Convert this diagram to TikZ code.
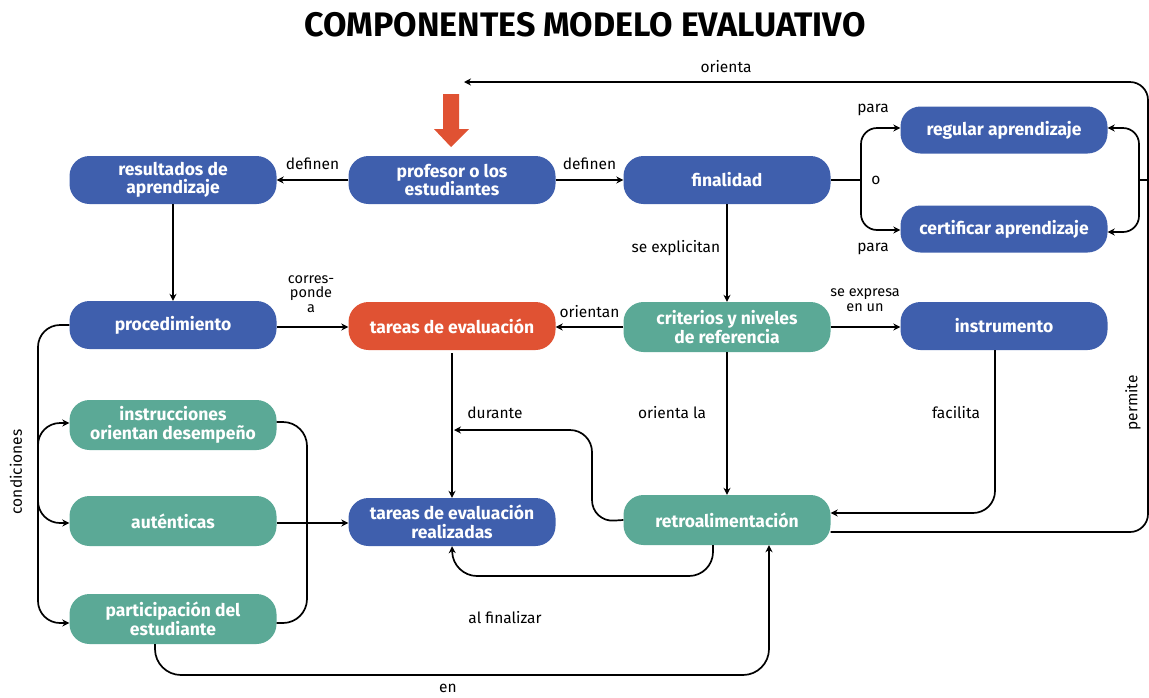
\documentclass[tikz,border=0pt]{standalone}
\usepackage{fontspec}
\setmainfont{Fira Sans}
\usetikzlibrary{arrows.meta,calc}
\definecolor{cblue}{HTML}{3F5FAD}
\definecolor{cteal}{HTML}{5BA996}
\definecolor{corange}{HTML}{E05233}
\tikzset{
  box/.style={rounded corners=20pt, minimum width=207pt, minimum height=48pt, inner sep=0pt,
    text=white, font=\fontsize{17.5}{18.5}\selectfont\bfseries, align=center},
  bluebox/.style={box, fill=cblue},
  tealbox/.style={box, fill=cteal},
  orangebox/.style={box, fill=corange},
  conn/.style={line width=1.7pt, draw=black},
  arr/.style={conn, -{Stealth[length=7pt,width=7pt]}},
  lbl/.style={font=\fontsize{15.5}{15}\selectfont, text=black, align=center, inner sep=0pt},
  tightlbl/.style={lbl, font=\fontsize{14.5}{14.5}\selectfont}
}
\begin{document}
\begin{tikzpicture}[x=1pt,y=-1pt]
\useasboundingbox (0,0) rectangle (1149,697);
\node[font=\fontsize{34}{36}\selectfont\bfseries] (title) at (585,25) {COMPONENTES MODELO EVALUATIVO};
% nodes
\node[bluebox] (res) at (173,180) {resultados de\\aprendizaje};
\node[bluebox] (prof) at (452,180) {profesor o los\\estudiantes};
\node[bluebox] (fin) at (727,180) {finalidad};
\node[bluebox, minimum height=47pt] (reg) at (1004,130) {regular aprendizaje};
\node[bluebox, minimum height=47pt] (cert) at (1004,229) {certificar aprendizaje};
\node[bluebox] (proc) at (173,325) {procedimiento};
\node[orangebox] (tar) at (452,326) {tareas de evaluación};
\node[tealbox, minimum height=50pt] (crit) at (727,327) {criterios y niveles\\de referencia};
\node[bluebox] (instr) at (1004,326) {instrumento};
\node[tealbox, minimum height=50pt] (ins) at (173,425) {instrucciones\\orientan desempeño};
\node[tealbox, minimum height=50pt] (aut) at (173,521) {auténticas};
\node[bluebox] (real) at (452,522) {tareas de evaluación\\realizadas};
\node[tealbox, minimum height=50pt] (retro) at (727,520) {retroalimentación};
\node[tealbox, minimum height=50pt] (part) at (173,619) {participación del\\estudiante};
% red arrow
\fill[corange] (443,94) -- (459,94) -- (459,129) -- (469,129) -- (451,147) -- (434,129) -- (443,129) -- cycle;
% coordinates
\coordinate (orientaend) at (464,82);
\coordinate (finfork) at (861,180);
\coordinate (rbr) at (1139,180);
\coordinate (lbr) at (38,472);
% edges
\draw[arr] (prof.west) -- (res.east) node[lbl, midway, above=9pt] {definen};
\draw[arr] (prof.east) -- (fin.west|-prof.east) node[lbl, midway, above=9pt] {definen};
\draw[arr, rounded corners=18pt] ([yshift=-12pt]retro.east) -- (1148,532) -- (1148,82) -- (orientaend);
\node[lbl] at (726,67) {orienta};
\node[lbl, rotate=90] at (1133,403) {permite};
\draw[conn] (rbr) -- (1149,180);
\draw[arr, rounded corners=16pt] (rbr) -- (1139,128) -- ([yshift=2pt]reg.east);
\draw[arr, rounded corners=16pt] (rbr) -- (1139,232) -- ([yshift=-3pt]cert.east);
\draw[conn] (fin.east) -- (finfork);
\draw[arr, rounded corners=16pt] (finfork) -- (861,128) -- ([yshift=2pt]reg.west);
\draw[arr, rounded corners=16pt] (finfork) -- (861,230) -- ([yshift=-1pt]cert.west);
\node[lbl] at (873,110) {para};
\node[lbl] at (876,180) {o};
\node[lbl] at (873,249) {para};
\draw[arr] (fin.south) -- (crit.north) node[lbl, pos=0.45, left=6pt] {se explicitan};
\draw[arr] (crit.west) -- (tar.east|-crit.west) node[lbl, midway, above=8pt] {orientan};
\draw[arr] ([yshift=-2pt]proc.east) -- ([yshift=-2pt]tar.west|-proc.east);
\node[tightlbl] at (311,294) {corres-\\ponde\\a};
\draw[arr] (res.south) -- (proc.north);
\draw[arr] (crit.east) -- (instr.west|-crit.east);
\node[tightlbl] at (865,300) {se expresa\\en un};
\draw[arr] (crit.south) -- (retro.north);
\node[lbl] at (672,413) {orienta la};
\draw[arr] ([yshift=-3pt]tar.south) -- (real.north);
\node[lbl] at (495,413) {durante};
\draw[arr, rounded corners=22pt] (retro.west) -- (592,522) -- (592,430) -- (454,430);
\draw[arr, rounded corners=22pt] ([xshift=-9pt]instr.south) -- (995,513) -- ([yshift=7pt]retro.east);
\node[lbl] at (956,413) {facilita};
\draw[arr, rounded corners=24pt] ([xshift=-14pt]retro.south) -- (713,576) -- (453,576) -- (real.south);
\node[lbl] at (505,618) {al finalizar};
\draw[arr, rounded corners=26pt] ([xshift=-18pt]part.south) -- (155,675) -- (769,675) -- ([xshift=42pt]retro.south);
\node[lbl] at (448,688) {en};
\draw[arr, rounded corners=22pt] (proc.west) -- (38,325) -- (38,623) -- ([yshift=-4pt]part.west);
\draw[arr, rounded corners=22pt] (lbr) -- (38,423) -- ([yshift=2pt]ins.west);
\draw[arr, rounded corners=22pt] (lbr) -- (38,523) -- ([yshift=-2pt]aut.west);
\node[lbl, rotate=90] at (16,472) {condiciones};
\draw[conn, rounded corners=24pt] ([yshift=3pt]ins.east) -- (307,422) -- (307,623) -- ([yshift=-4pt]part.east);
\draw[arr] ([yshift=-2pt]aut.east) -- ([yshift=-2pt]real.west|-aut.east);
\end{tikzpicture}
\end{document}
